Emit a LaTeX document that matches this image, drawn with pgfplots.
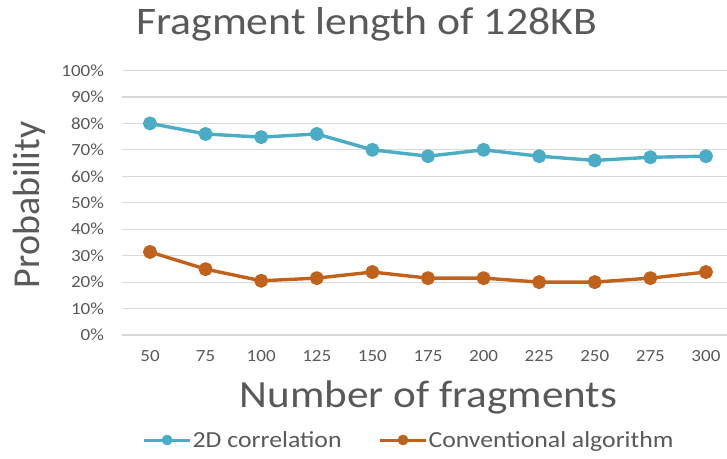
\documentclass[border=0pt]{standalone}
\usepackage{pgfplots}
\pgfplotsset{compat=1.18}
\usepackage{fontspec}
\setmainfont{Carlito}[FakeStretch=1.12]
\newfontfamily\uprightfont{Carlito}

\definecolor{txtgray}{HTML}{595959}
\definecolor{gridgray}{HTML}{D9D9D9}
\definecolor{corrblue}{RGB}{75,172,198}
\definecolor{convorange}{RGB}{192,98,28}

\pgfplotstableread{
n    p
50   80
75   76
100  74.8
125  76
150  70
175  67.6
200  70
225  67.6
250  66
275  67.2
300  67.6
}\corrdata

\pgfplotstableread{
n    p
50   31.4
75   24.9
100  20.5
125  21.5
150  23.8
175  21.5
200  21.5
225  20
250  20
275  21.5
300  23.8
}\convdata

\begin{document}
\begin{tikzpicture}[x=1pt,y=1pt]
\path[use as bounding box] (0,0) rectangle (727,458);
\begin{axis}[
  at={(122.2pt,123pt)}, anchor=south west,
  scale only axis,
  width=606pt, height=264.5pt,
  xmin=37.5, xmax=310,
  ymin=0, ymax=100,
  xtick={50,75,...,300},
  ytick={0,10,...,100},
  yticklabel={\pgfmathprintnumber{\tick}\%},
  /pgf/number format/assume math mode=true,
  axis line style={draw=none},
  major tick length=0pt,
  ymajorgrids,
  grid style={gridgray, line width=1.2pt},
  tick label style={font=\fontsize{17}{20}\selectfont, text=txtgray, inner sep=0pt},
  xticklabel style={anchor=north, yshift=-15.5pt},
  yticklabel style={anchor=east, xshift=-18pt},
  clip=false,
  legend columns=2,
  legend style={
    at={(0.4725,-0.397)}, anchor=center,
    draw=none, fill=none,
    font=\fontsize{23}{26}\selectfont, text=txtgray,
    /tikz/every even column/.append style={column sep=36pt},
    nodes={inner sep=1pt},
  },
  legend image code/.code={
    \draw[mark repeat=2, mark phase=2, #1, line width=3pt, mark size=3.8pt]
      plot coordinates {(0pt,0pt) (23pt,0pt) (46pt,0pt)};
  },
  every axis plot/.append style={line width=3.4pt, line join=round},
]
\addplot[corrblue, mark=*, mark size=5.3pt,
  mark options={draw=none, fill=corrblue}] table[x=n, y=p] {\corrdata};
\addlegendentry{2D correlation}
\addplot[convorange, mark=*, mark size=5.3pt,
  mark options={draw=none, fill=convorange}] table[x=n, y=p] {\convdata};
\addlegendentry{Conventional algorithm}
\end{axis}

% titles
\node[anchor=base, text=txtgray, font=\fontsize{39}{45}\selectfont, inner sep=0pt]
  at (366.5,423) {Fragment length of 128KB};
\node[anchor=base, text=txtgray, font=\fontsize{38.5}{44}\selectfont, inner sep=0pt]
  at (428.5,51) {Number of fragments};
\node[rotate=90, text=txtgray, font=\uprightfont\fontsize{38}{44}\selectfont, inner sep=0pt]
  at (29,253) {Probability};
\end{tikzpicture}
\end{document}
